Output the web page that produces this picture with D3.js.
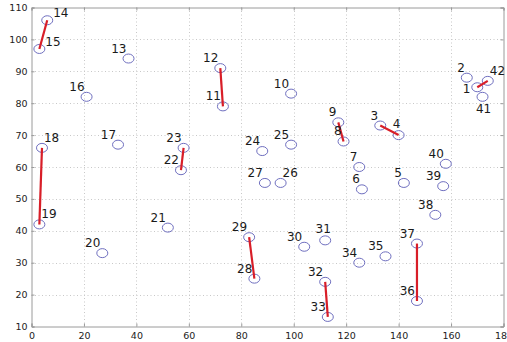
<!DOCTYPE html>
<html><head><meta charset="utf-8">
<script src="https://cdn.jsdelivr.net/npm/d3@7"></script>
<style>body{margin:0;background:#fff}svg{display:block}</style>
</head><body>
<script>
const ids = [1,2,3,4,5,6,7,8,9,10,11,12,13,14,15,16,17,18,19,20,21,22,23,24,25,26,27,28,29,30,31,32,33,34,35,36,37,38,39,40,41,42];
const xs = [170,166,133,140,142,126,125,119,117,99,73,72,37,6,3,21,33,4,3,27,52,57,58,88,99,95,89,85,83,104,112,112,113,125,135,147,147,154,157,158,172,174];
const ys = [85,88,73,70,55,53,60,68,74,83,79,91,94,106,97,82,67,66,42,33,41,59,66,65,67,55,55,25,38,35,37,24,13,30,32,18,36,45,54,61,82,87];
const labelSide = ["l","ul","ul","u","ul","ul","ul","ul","ul","ul","ul","ul","ul","r","r","ul","ul","ur","ur","ul","ul","ul","ul","ul","ul","ur","ul","ul","ul","ul","u","ul","ul","ul","ul","ul","ul","ul","ul","ul","d","ur"];
const links = [[14,15],[18,19],[12,11],[23,22],[9,8],[3,4],[1,42],[29,28],[32,33],[37,36]];
const xTicks = [0,20,40,60,80,100,120,140,160,180];
const yTicks = [10,20,30,40,50,60,70,80,90,100,110];

const W=507,H=342, L=31.5,R=503.5,T=7.5,B=326.5;
const svg=d3.select("body").append("svg").attr("width",W).attr("height",H);
const x=d3.scaleLinear().domain([0,180]).range([L,R]);
const y=d3.scaleLinear().domain([10,110]).range([B,T]);

const grid=svg.append("g").attr("stroke","#c8c8c8").attr("stroke-dasharray","1,2.5").attr("stroke-width",1);
xTicks.slice(1,-1).forEach(t=>grid.append("line").attr("x1",Math.round(x(t))+0.5).attr("x2",Math.round(x(t))+0.5).attr("y1",T).attr("y2",B));
yTicks.slice(1,-1).forEach(t=>grid.append("line").attr("y1",Math.round(y(t))+0.5).attr("y2",Math.round(y(t))+0.5).attr("x1",L).attr("x2",R));

const ax=svg.append("g").attr("transform",`translate(0,${B})`).call(d3.axisBottom(x).tickValues(xTicks).tickSize(-3).tickPadding(6));
const ay=svg.append("g").attr("transform",`translate(${L},0)`).call(d3.axisLeft(y).tickValues(yTicks).tickSize(-3).tickPadding(4));
const at=svg.append("g").attr("transform",`translate(0,${T})`).call(d3.axisTop(x).tickValues(xTicks).tickSize(-3).tickFormat(""));
const ar=svg.append("g").attr("transform",`translate(${R},0)`).call(d3.axisRight(y).tickValues(yTicks).tickSize(-3).tickFormat(""));
[ax,ay,at,ar].forEach(a=>{a.selectAll("path,line").attr("stroke","#9a9a9a");a.selectAll("text").attr("fill","#222").style("font-family","DejaVu Sans").style("font-size","9.5px");});

const pts=ids.map((id,i)=>({id,x:xs[i],y:ys[i],side:labelSide[i]}));
const byId=new Map(pts.map(p=>[p.id,p]));

svg.append("g").selectAll("ellipse").data(pts).join("ellipse")
 .attr("cx",d=>x(d.x)).attr("cy",d=>y(d.y)).attr("rx",5.5).attr("ry",4.5)
 .attr("fill","none").attr("stroke","#6f6fbf").attr("stroke-width",1);

svg.append("g").selectAll("line").data(links).join("line")
 .attr("x1",d=>x(byId.get(d[0]).x)).attr("y1",d=>y(byId.get(d[0]).y))
 .attr("x2",d=>x(byId.get(d[1]).x)).attr("y2",d=>y(byId.get(d[1]).y))
 .attr("stroke","#d81e28").attr("stroke-width",2.2);

const off={ul:[-2,-6,"end"],ur:[2,-6,"start"],r:[6,-3,"start"],l:[-7,6,"end"],u:[-2,-7,"middle"],d:[1,16,"middle"]};
svg.append("g").selectAll("text").data(pts).join("text")
 .attr("x",d=>x(d.x)+off[d.side][0]).attr("y",d=>y(d.y)+off[d.side][1])
 .attr("text-anchor",d=>off[d.side][2])
 .attr("fill","#1a1a1a").style("font-family","DejaVu Sans").style("font-size","12px")
 .text(d=>d.id);
</script>
</body></html>
